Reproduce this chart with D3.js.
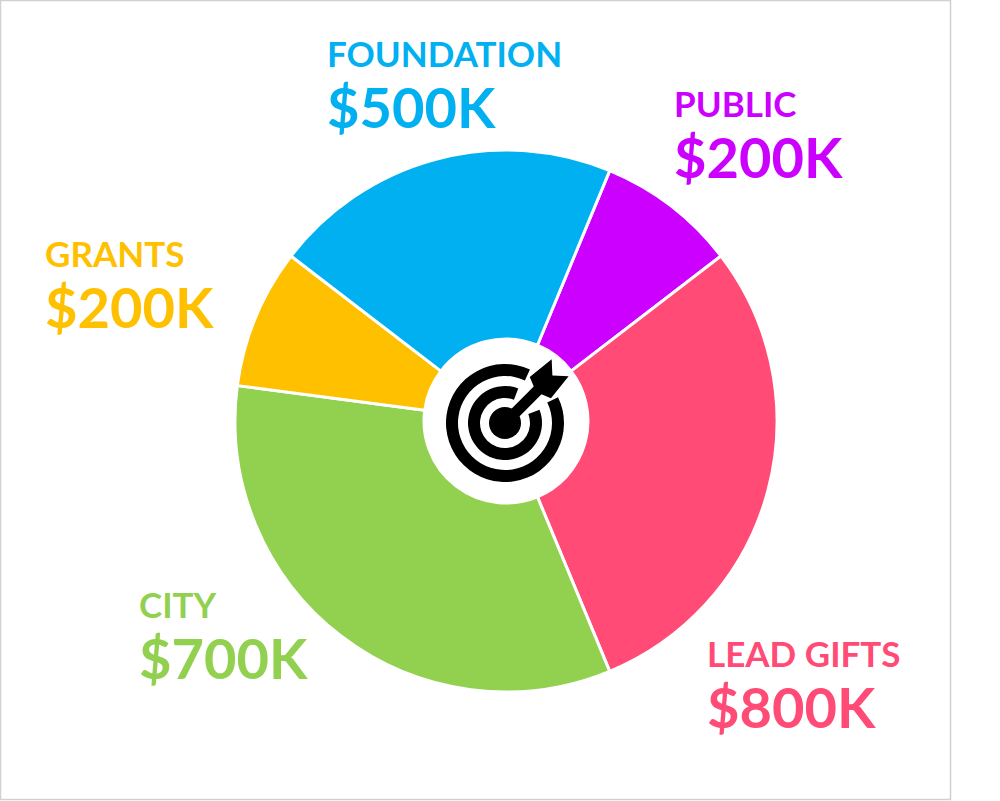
<!DOCTYPE html>
<html>
<head>
<meta charset="utf-8">
<script src="https://cdn.jsdelivr.net/npm/d3@7"></script>
<style>
  body { margin: 0; background: #fff; }
  text { font-family: Lato, "Open Sans", sans-serif; font-weight: 700; }
</style>
</head>
<body>
<div id="chart-area"></div>
<script>
// slices, clockwise from the top-right
const categories = ["PUBLIC", "LEAD GIFTS", "CITY", "GRANTS", "FOUNDATION"];
// slice sizes as drawn (in $K)
const sliceValues = [200, 700, 800, 200, 500];
// amounts printed next to each slice
const amountLabels = ["$200K", "$800K", "$700K", "$200K", "$500K"];
const colors = ["#CC00FF", "#FF4B75", "#92D050", "#FFC000", "#00B0F0"];

// label anchors (top line baseline), same order as categories
const labelPos = [
  { x: 674, y: 117 },
  { x: 707, y: 667 },
  { x: 139, y: 618 },
  { x: 45, y: 267 },
  { x: 327, y: 67 }
];

const width = 1000;
const height = 801;
const cx = 506, cy = 421;
const outerR = 271, innerR = 82;

const svg = d3.select("#chart-area")
  .append("svg")
  .attr("width", width)
  .attr("height", height);

// frame
svg.append("rect")
  .attr("x", 0.5)
  .attr("y", 0.5)
  .attr("width", 950)
  .attr("height", 799)
  .attr("fill", "none")
  .attr("stroke", "#d0d0d0")
  .attr("stroke-width", 1.5);

const data = categories.map((c, i) => ({ name: c, value: sliceValues[i], amount: amountLabels[i], color: colors[i] }));

const pie = d3.pie()
  .sort(null)
  .value(d => d.value)
  .startAngle(22.5 * Math.PI / 180)
  .endAngle((22.5 + 360) * Math.PI / 180);

const arc = d3.arc().innerRadius(innerR).outerRadius(outerR);

const g = svg.append("g")
  .attr("transform", `translate(${cx}, ${cy})`);

g.selectAll("path.slice")
  .data(pie(data))
  .enter()
  .append("path")
  .attr("class", "slice")
  .attr("d", arc)
  .attr("fill", d => d.data.color)
  .attr("stroke", "#fff")
  .attr("stroke-width", 3)
  .attr("stroke-linejoin", "round");

// white centre
g.append("circle")
  .attr("r", innerR)
  .attr("fill", "#fff");

// target icon
const icon = g.append("g").attr("transform", "translate(-1, 2)");
const deg = Math.PI / 180;
const ringArc = d3.arc();
// [inner, outer, gap start, gap end] in degrees from north
[[47, 59, 25, 64], [25, 37, 21, 69]].forEach(([r0, r1, a0, a1]) => {
  icon.append("path")
    .attr("d", ringArc({ innerRadius: r0, outerRadius: r1, startAngle: a1 * deg, endAngle: (360 + a0) * deg }))
    .attr("fill", "#000");
});
icon.append("circle").attr("r", 16).attr("fill", "#000");

// arrow pointing into the bullseye, tail to the upper right
const arrow = icon.append("g").attr("transform", "rotate(-45)");
arrow.append("rect")
  .attr("x", 0)
  .attr("y", -5.5)
  .attr("width", 56)
  .attr("height", 11)
  .attr("fill", "#000");
arrow.append("path")
  .attr("d", "M44,0 L50,-15 L78,-12 L67,0 L78,12 L50,15 Z")
  .attr("fill", "#000");

// labels
const labels = svg.selectAll("g.label")
  .data(data)
  .enter()
  .append("g")
  .attr("class", "label")
  .attr("fill", d => d.color)
  .attr("transform", (d, i) => `translate(${labelPos[i].x}, ${labelPos[i].y})`);

labels.append("text")
  .attr("font-size", "35px")
  .text(d => d.name);

labels.append("text")
  .attr("y", 61)
  .attr("font-size", "56px")
  .text(d => d.amount);
</script>
</body>
</html>
